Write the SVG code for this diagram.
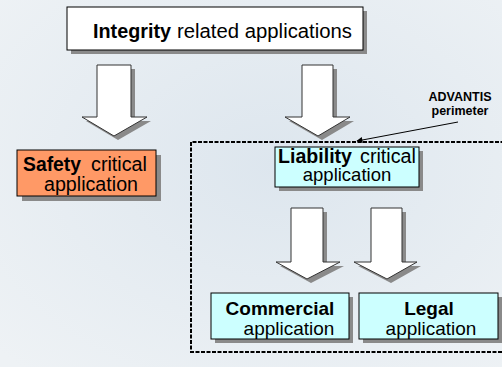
<svg xmlns="http://www.w3.org/2000/svg" width="502" height="367" viewBox="0 0 502 367">
<defs>
<radialGradient id="bg" cx="0.55" cy="0.45" r="0.75">
<stop offset="0" stop-color="#dde6ee"/>
<stop offset="1" stop-color="#eef2f5"/>
</radialGradient>
<marker id="ah" viewBox="0 0 10 10" refX="9" refY="5" markerWidth="7" markerHeight="6" orient="auto" markerUnits="userSpaceOnUse">
<path d="M0,0 L10,5 L0,10 z" fill="#000"/>
</marker>
<style>
.t{font-family:"Liberation Sans",Arial,sans-serif;font-size:19.5px;fill:#000}
.b{font-weight:bold}
.box{stroke:#000;stroke-width:1}
.sh{fill:#8a8a8a}
.arr{fill:#fff;stroke:#333;stroke-width:1}
.lbl{font-family:"Liberation Sans",Arial,sans-serif;font-size:12.5px;font-weight:bold;fill:#000}
</style>
</defs>
<rect width="502" height="367" fill="url(#bg)"/>

<g id="connectors">
<g id="arrow-left">
<path class="sh" d="M101,69 H135 V121 H151 L118,140 L86,121 H101 Z"/>
<path class="arr" d="M97,65 H131 V117 H147 L114,136 L82,117 H97 Z"/>
</g>
<g id="arrow-right">
<path class="sh" d="M306,69 H337 V121 H354 L322,140 L289,121 H306 Z"/>
<path class="arr" d="M302,65 H333 V117 H350 L318,136 L285,117 H302 Z"/>
</g>
<g id="arrow-commercial">
<path class="sh" d="M295,212 H327 V266 H344 L311,283 L280,266 H295 Z"/>
<path class="arr" d="M291,208 H323 V262 H340 L307,279 L276,262 H291 Z"/>
</g>
<g id="arrow-legal">
<path class="sh" d="M375,212 H406 V266 H421 L391,283 L358,266 H375 Z"/>
<path class="arr" d="M371,208 H402 V262 H417 L387,279 L354,262 H371 Z"/>
</g>
<line x1="458" y1="122" x2="357" y2="141" stroke="#000" stroke-width="1" marker-end="url(#ah)"/>
</g>

<g id="perimeter">
<path d="M510,142 H191 V352 H510" fill="none" stroke="#000" stroke-width="2" stroke-dasharray="4,1.5"/>
<text class="lbl" x="460" y="101" text-anchor="middle">ADVANTIS</text>
<text class="lbl" x="460" y="115" text-anchor="middle">perimeter</text>
</g>

<g id="integrity">
<rect class="sh" x="71" y="11" width="296" height="43"/>
<rect class="box" x="67" y="7" width="296" height="43" fill="#fff"/>
<text class="t" y="38"><tspan class="b" x="93" textLength="78" lengthAdjust="spacingAndGlyphs">Integrity</tspan><tspan x="177" textLength="175" lengthAdjust="spacingAndGlyphs">related applications</tspan></text>
</g>

<g id="safety">
<rect class="sh" x="22" y="155" width="139" height="46"/>
<rect class="box" x="17" y="150" width="139" height="46" fill="#ff9966"/>
<text class="t" y="171"><tspan class="b" x="23" textLength="58" lengthAdjust="spacingAndGlyphs">Safety</tspan><tspan x="91" textLength="56" lengthAdjust="spacingAndGlyphs">critical</tspan></text>
<text class="t" x="44" y="191" textLength="94" lengthAdjust="spacingAndGlyphs">application</text>
</g>

<g id="liability">
<rect class="sh" x="279" y="151" width="144" height="40"/>
<rect class="box" x="275" y="147" width="144" height="40" fill="#ccffff"/>
<text class="t" y="163"><tspan class="b" x="278" textLength="74" lengthAdjust="spacingAndGlyphs">Liability</tspan><tspan x="360" textLength="56" lengthAdjust="spacingAndGlyphs">critical</tspan></text>
<text class="t" x="347" y="181" text-anchor="middle" style="font-size:18.5px">application</text>
</g>

<g id="commercial">
<rect class="sh" x="215" y="297" width="138" height="46"/>
<rect class="box" x="211" y="293" width="138" height="46" fill="#ccffff"/>
<text class="t b" x="280" y="315" text-anchor="middle" style="font-size:19px">Commercial</text>
<text class="t" x="289" y="335" text-anchor="middle" style="font-size:19px">application</text>
</g>

<g id="legal">
<rect class="sh" x="363" y="297" width="139" height="46"/>
<rect class="box" x="359" y="293" width="139" height="46" fill="#ccffff"/>
<text class="t b" x="429" y="315" text-anchor="middle" style="font-size:19px">Legal</text>
<text class="t" x="431" y="335" text-anchor="middle" style="font-size:19px">application</text>
</g>
</svg>
